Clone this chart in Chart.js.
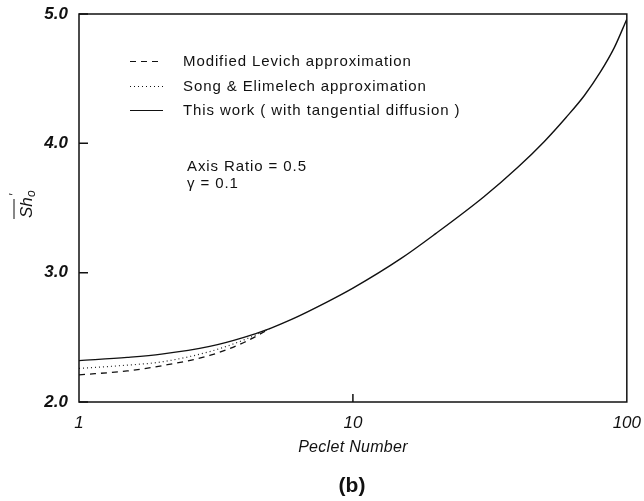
<!DOCTYPE html>
<html>
<head>
<meta charset="utf-8">
<script src="https://cdn.jsdelivr.net/npm/chart.js@4"></script>
<style>
  html, body { margin: 0; padding: 0; background: #fff; }
  #wrap { width: 644px; height: 501px; }
</style>
</head>
<body>
<div id="wrap"><canvas id="grafico"></canvas></div>
<script>
// datos
const peclet = [1, 1.5, 2, 3, 4, 5, 6, 8, 10, 15, 20, 30, 40, 50, 60, 70, 80, 90, 100];
const thisWork = [2.32, 2.345, 2.37, 2.43, 2.50, 2.57, 2.64, 2.77, 2.88, 3.11, 3.30, 3.585, 3.815, 4.015, 4.20, 4.37, 4.55, 4.74, 4.96];
const pecletAprox = [1, 1.5, 2, 3, 4, 5];
const levich = [2.21, 2.24, 2.28, 2.36, 2.46, 2.57];
const songElimelech = [2.26, 2.285, 2.31, 2.39, 2.48, 2.57];
const xTicks = [1, 10, 100];
const yTicks = [2, 3, 4, 5];

const legendItems = [
  { text: 'Modified Levich approximation', dash: [6, 5] },
  { text: 'Song & Elimelech approximation', dash: [1, 3] },
  { text: 'This work ( with tangential diffusion )', dash: [] }
];

const FONT = '"Liberation Sans", Arial, sans-serif';

function puntos(xs, ys) {
  return xs.map((x, i) => ({ x: x, y: ys[i] }));
}

// dibuja el marco, las marcas internas, la leyenda y los textos
const decoracion = {
  id: 'decoracion',
  afterDraw(chart) {
    const ctx = chart.ctx;
    const a = chart.chartArea;
    const xs = chart.scales.x, ys = chart.scales.y;
    ctx.save();
    ctx.strokeStyle = '#111';
    ctx.lineWidth = 1.5;
    ctx.strokeRect(a.left, a.top, a.right - a.left, a.bottom - a.top);

    // marcas hacia adentro
    ctx.beginPath();
    yTicks.forEach(v => {
      const y = ys.getPixelForValue(v);
      ctx.moveTo(a.left, y); ctx.lineTo(a.left + 9, y);
    });
    const x10 = xs.getPixelForValue(10);
    ctx.moveTo(x10, a.bottom); ctx.lineTo(x10, a.bottom - 8);
    ctx.stroke();

    // leyenda
    ctx.fillStyle = '#111';
    ctx.font = '15px ' + FONT;
    ctx.letterSpacing = '0.9px';
    ctx.textBaseline = 'middle';
    ctx.textAlign = 'left';
    legendItems.forEach((it, i) => {
      const y = Math.round(61 + i * 24.5) + 0.5;
      ctx.beginPath();
      ctx.setLineDash(it.dash);
      ctx.lineWidth = 1.2;
      ctx.moveTo(130, y); ctx.lineTo(163, y);
      ctx.stroke();
      ctx.setLineDash([]);
      ctx.fillText(it.text, 183, y);
    });
    ctx.fillText('Axis Ratio = 0.5', 187, 167);
    ctx.fillText('\u03B3 = 0.1', 187, 184);

    // titulo eje x y etiqueta (b)
    ctx.letterSpacing = '0.3px';
    ctx.textAlign = 'center';
    ctx.font = 'italic 16px ' + FONT;
    ctx.fillText('Peclet Number', 353, 448);
    ctx.letterSpacing = '0px';
    ctx.font = 'bold 21px ' + FONT;
    ctx.fillText('(b)', 352, 486);

    // titulo eje y: Sh'o con barra
    ctx.translate(27, 206);
    ctx.rotate(-Math.PI / 2);
    ctx.font = 'italic 17px ' + FONT;
    ctx.textAlign = 'left';
    ctx.fillText('Sh', -12, 0);
    ctx.font = 'italic 12px ' + FONT;
    ctx.fillText('\u2032', 10, -12);
    ctx.fillText('o', 9, 5);
    ctx.beginPath();
    ctx.lineWidth = 1;
    ctx.moveTo(-13, -13); ctx.lineTo(7, -13);
    ctx.stroke();
    ctx.restore();
  }
};

new Chart(document.getElementById('grafico'), {
  type: 'line',
  data: {
    datasets: [
      {
        label: 'This work',
        data: puntos(peclet, thisWork),
        borderColor: '#111',
        borderWidth: 1.4,
        pointRadius: 0,
        cubicInterpolationMode: 'monotone'
      },
      {
        label: 'Song & Elimelech',
        data: puntos(pecletAprox, songElimelech),
        borderColor: '#222',
        borderWidth: 1.2,
        borderDash: [1, 3],
        pointRadius: 0,
        cubicInterpolationMode: 'monotone'
      },
      {
        label: 'Modified Levich',
        data: puntos(pecletAprox, levich),
        borderColor: '#111',
        borderWidth: 1.3,
        borderDash: [6, 5],
        pointRadius: 0,
        cubicInterpolationMode: 'monotone'
      }
    ]
  },
  options: {
    responsive: true,
    maintainAspectRatio: false,
    animation: false,
    layout: { padding: { left: 0, right: 16, top: 14, bottom: 0 } },
    plugins: {
      legend: { display: false },
      tooltip: { enabled: false }
    },
    scales: {
      x: {
        type: 'logarithmic',
        min: 1,
        max: 100,
        afterBuildTicks: s => { s.ticks = xTicks.map(v => ({ value: v })); },
        afterFit: s => { s.height = 99; },
        grid: { display: false },
        border: { display: false },
        ticks: {
          color: '#111',
          font: { family: FONT, size: 17, style: 'italic' },
          padding: 3,
          maxRotation: 0,
          callback: v => String(v)
        }
      },
      y: {
        min: 2,
        max: 5,
        afterBuildTicks: s => { s.ticks = yTicks.map(v => ({ value: v })); },
        afterFit: s => { s.width = 79; },
        grid: { display: false },
        border: { display: false },
        ticks: {
          color: '#111',
          font: { family: FONT, size: 17, style: 'italic', weight: 'bold' },
          padding: 3,
          callback: v => v.toFixed(1)
        }
      }
    }
  },
  plugins: [decoracion]
});
</script>
</body>
</html>
